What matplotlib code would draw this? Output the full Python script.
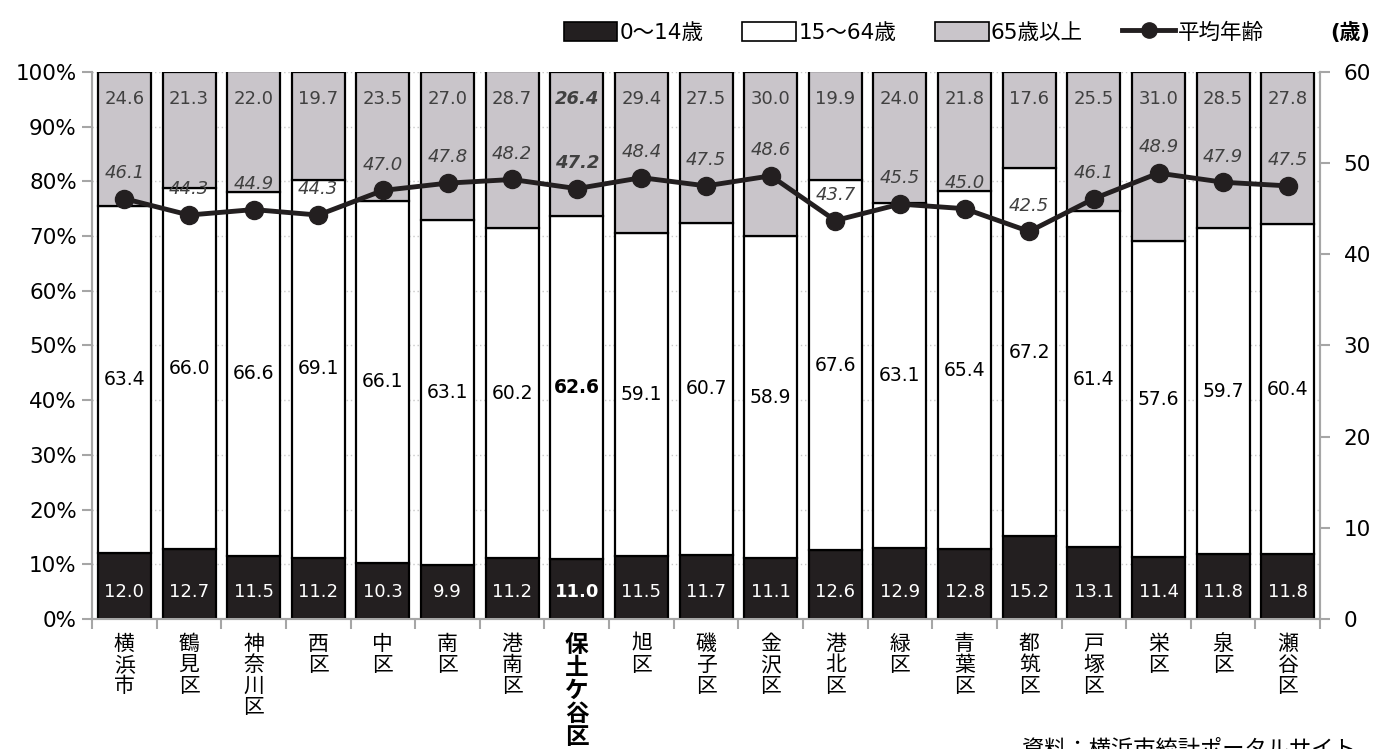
import matplotlib
matplotlib.use("Agg")
import matplotlib.pyplot as plt
from matplotlib.patches import Patch
from matplotlib.lines import Line2D
import numpy as np

plt.rcParams['font.family'] = ['DejaVu Sans', 'Noto Sans CJK JP']

# ---------- data ----------
wards = ["横浜市", "鶴見区", "神奈川区", "西区", "中区", "南区", "港南区", "保土ケ谷区",
         "旭区", "磯子区", "金沢区", "港北区", "緑区", "青葉区", "都筑区", "戸塚区",
         "栄区", "泉区", "瀬谷区"]
young = [12.0, 12.7, 11.5, 11.2, 10.3, 9.9, 11.2, 11.0, 11.5, 11.7, 11.1, 12.6, 12.9,
         12.8, 15.2, 13.1, 11.4, 11.8, 11.8]
working = [63.4, 66.0, 66.6, 69.1, 66.1, 63.1, 60.2, 62.6, 59.1, 60.7, 58.9, 67.6, 63.1,
           65.4, 67.2, 61.4, 57.6, 59.7, 60.4]
elderly = [24.6, 21.3, 22.0, 19.7, 23.5, 27.0, 28.7, 26.4, 29.4, 27.5, 30.0, 19.9, 24.0,
           21.8, 17.6, 25.5, 31.0, 28.5, 27.8]
avg_age = [46.1, 44.3, 44.9, 44.3, 47.0, 47.8, 48.2, 47.2, 48.4, 47.5, 48.6, 43.7, 45.5,
           45.0, 42.5, 46.1, 48.9, 47.9, 47.5]
highlight = "保土ケ谷区"

dark = "#231f20"
grey = "#c9c5ca"
axis_col = "#a6a6a6"

x = np.arange(len(wards))
w = 0.82

fig = plt.figure(figsize=(13.78, 7.49), dpi=100)
ax = fig.add_axes([0.0668, 0.1736, 0.8912, 0.7304])

ax.bar(x, young, w, color=dark, edgecolor="black", linewidth=1.6, zorder=3)
ax.bar(x, working, w, bottom=young, color="white", edgecolor="black", linewidth=1.6, zorder=3)
bot2 = [a + b for a, b in zip(young, working)]
ax.bar(x, elderly, w, bottom=bot2, color=grey, edgecolor="black", linewidth=1.6, zorder=3)

for i, name in enumerate(wards):
    wt = "bold" if name == highlight else "normal"
    ax.text(i, 4.9, f"{young[i]:.1f}", ha="center", va="center", color="white",
            fontsize=13, fontweight=wt, zorder=5)
    ax.text(i, young[i] + working[i] / 2, f"{working[i]:.1f}", ha="center", va="center",
            color="black", fontsize=13.5, fontweight=wt, zorder=5)
    ax.text(i, 95, f"{elderly[i]:.1f}", ha="center", va="center", color="#404040",
            fontsize=13, fontweight=wt, fontstyle="italic" if name == highlight else "normal",
            zorder=5)

ax.set_xlim(-0.5, len(wards) - 0.5)
ax.set_ylim(0, 100)
ax.set_yticks(np.arange(0, 101, 10))
ax.set_yticklabels([f"{v}%" for v in range(0, 101, 10)], fontsize=15.5)
ax.yaxis.grid(True, linestyle=(0, (1, 2)), color="#c8c8c8", linewidth=1, zorder=0)
ax.set_axisbelow(True)

ax.set_xticks(x)
ax.set_xticklabels(["\n".join(n) for n in wards], family=["Noto Sans CJK JP"],
                   fontsize=15, linespacing=0.95, va="top")
for lbl, n in zip(ax.get_xticklabels(), wards):
    if n == highlight:
        lbl.set_fontweight("bold")
        lbl.set_fontsize(17)
ax.set_xticks(np.arange(-0.5, len(wards), 1), minor=True)
ax.tick_params(axis="x", which="major", length=0, pad=10)
ax.tick_params(axis="x", which="minor", length=7, color=axis_col, width=1.5)
ax.tick_params(axis="y", length=7, color=axis_col, width=1.5, pad=4)

ax.spines["top"].set_visible(False)
for s in ["left", "right", "bottom"]:
    ax.spines[s].set_color(axis_col)
    ax.spines[s].set_linewidth(1.5)

ax2 = ax.twinx()
ax2.plot(x, avg_age, color=dark, linewidth=3.5, marker="o", markersize=13, zorder=6)
for i, name in enumerate(wards):
    wt = "bold" if name == highlight else "normal"
    ax2.annotate(f"{avg_age[i]:.1f}", (i, avg_age[i]), xytext=(0, 12),
                 textcoords="offset points", ha="center", va="bottom",
                 fontsize=13, fontstyle="italic", fontweight=wt, color="#404040")
ax2.set_ylim(0, 60)
ax2.set_yticks(np.arange(0, 61, 10))
ax2.tick_params(axis="y", labelsize=15.5, length=7, color=axis_col, width=1.5, pad=10)
ax2.spines["top"].set_visible(False)
for s in ["left", "right", "bottom"]:
    ax2.spines[s].set_color(axis_col)
    ax2.spines[s].set_linewidth(1.5)

handles = [
    Patch(facecolor=dark, edgecolor="black", linewidth=1.2),
    Patch(facecolor="white", edgecolor="black", linewidth=1.2),
    Patch(facecolor=grey, edgecolor="black", linewidth=1.2),
    Line2D([], [], color=dark, linewidth=3.5, marker="o", markersize=11),
]
labels = ["0〜14歳", "15〜64歳", "65歳以上", "平均年齢"]
fig.legend(handles, labels, loc="center", bbox_to_anchor=(0.663, 0.957), ncol=4,
           frameon=False, fontsize=15.5, handlelength=2.5, handleheight=1.0,
           handletextpad=0.1, columnspacing=1.8)

fig.text(0.98, 0.957, "(歳)", ha="center", va="center", fontsize=15, fontweight="bold")
fig.text(0.742, 0.0, "資料：横浜市統計ポータルサイト", ha="left", va="center",
         fontsize=16, family=["Noto Sans CJK JP"])

fig.savefig("out.png", dpi=100)
